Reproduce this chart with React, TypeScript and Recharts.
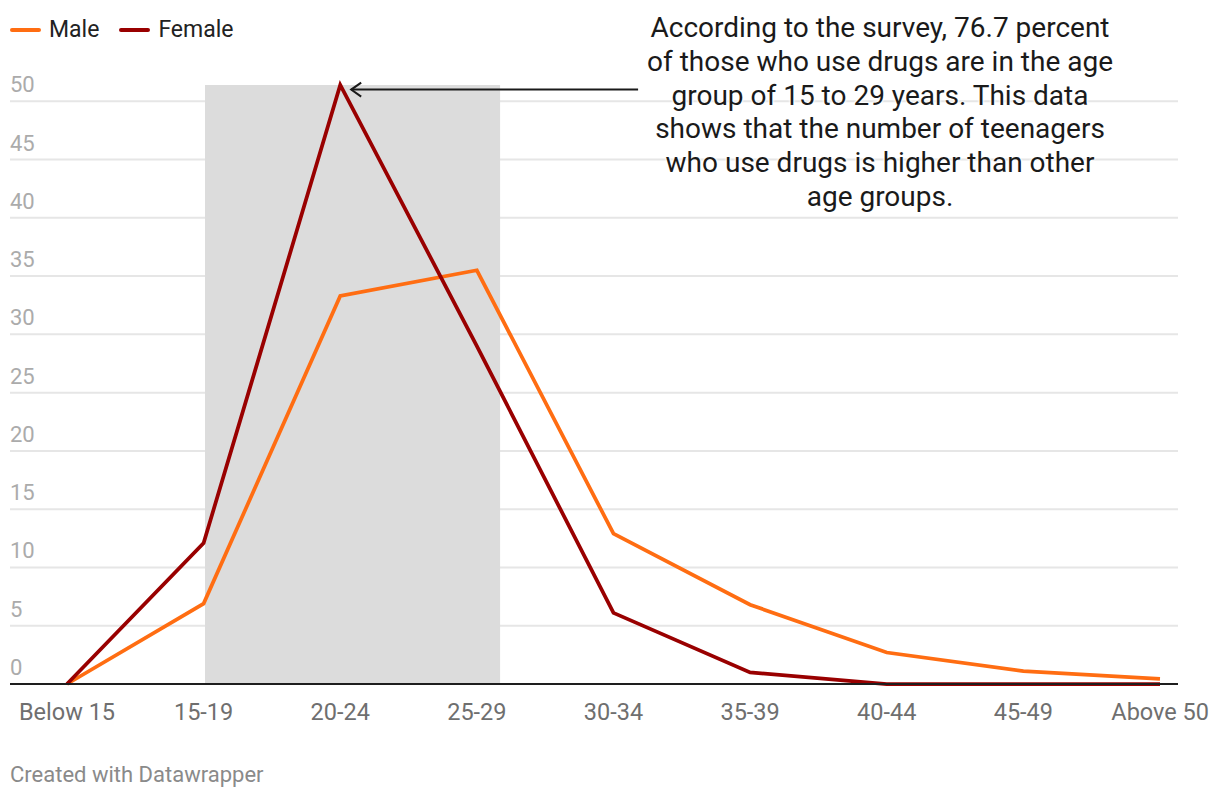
import React from "react";
import { LineChart, Line, XAxis, YAxis, CartesianGrid, ReferenceArea, ReferenceLine } from "recharts";

const categories = ["Below 15", "15-19", "20-24", "25-29", "30-34", "35-39", "40-44", "45-49", "Above 50"];
const male = [0, 6.9, 33.3, 35.5, 12.9, 6.8, 2.7, 1.1, 0.45];
const female = [0, 12.1, 51.4, 29.0, 6.1, 1.0, 0, 0, 0];
const yTicks = [0, 5, 10, 15, 20, 25, 30, 35, 40, 45, 50];
const noteLines = [
  "According to the survey, 76.7 percent",
  "of those who use drugs are in the age",
  "group of 15 to 29 years. This data",
  "shows that the number of teenagers",
  "who use drugs is higher than other",
  "age groups.",
];

const data = categories.map((c, i) => ({ idx: i, label: c, male: male[i], female: female[i] }));

const FONT = "Roboto, 'Noto Sans', sans-serif";
const MALE = "#ff6d12";
const FEMALE = "#990000";

function YTick(props: any) {
  const { y, payload } = props;
  return (
    <text x={10} y={y - 9} textAnchor="start" fill="#ababab" fontSize={22} fontFamily={FONT}>
      {payload.value}
    </text>
  );
}

function XTick(props: any) {
  const { x, y, payload } = props;
  const last = payload.value === categories.length - 1;
  return (
    <text x={last ? x + 49 : x} y={y + 28} textAnchor={last ? "end" : "middle"} fill="#6f6f6f" fontSize={23.5} fontFamily={FONT}>
      {categories[payload.value]}
    </text>
  );
}

function Arrow(props: any) {
  const { x1, y1, x2, y2 } = props;
  return (
    <g>
      <line x1={x1} y1={y1} x2={x2} y2={y2} stroke="#1a1a1a" strokeWidth={2} />
      <path d={`M${x1 + 10},${y1 - 7} L${x1},${y1} L${x1 + 10},${y1 + 7}`} fill="none" stroke="#1a1a1a" strokeWidth={2} />
    </g>
  );
}

function LegendItem({ color, label }: { color: string; label: string }) {
  return (
    <span style={{ display: "inline-flex", alignItems: "center", marginRight: 20 }}>
      <span style={{ display: "inline-block", width: 31, height: 4, borderRadius: 2, background: color, marginRight: 8 }} />
      <span>{label}</span>
    </span>
  );
}

export default function App() {
  return (
    <div style={{ position: "relative", width: 1220, height: 802, background: "#fff", fontFamily: FONT }}>
      <style>{`body{margin:0}`}</style>
      <div style={{ position: "absolute", left: 10, top: 16, fontSize: 23, color: "#222", display: "flex", lineHeight: "28px" }}>
        <LegendItem color={MALE} label="Male" />
        <LegendItem color={FEMALE} label="Female" />
      </div>
      <LineChart width={1220} height={802} data={data} margin={{ top: 43, right: 42, bottom: 0, left: 9 }}>
        <ReferenceArea x1={1.01} x2={3.17} y1={0} y2={51.4} fill="#dcdcdc" fillOpacity={1} stroke="none" ifOverflow="visible" />
        <CartesianGrid vertical={false} stroke="#e6e6e6" strokeWidth={2} syncWithTicks />
        <XAxis
          type="number"
          dataKey="idx"
          domain={[0, 8]}
          ticks={[0, 1, 2, 3, 4, 5, 6, 7, 8]}
          padding={{ left: 57, right: 18 }}
          axisLine={{ stroke: "#1e1e1e", strokeWidth: 2 }}
          tickLine={false}
          tick={<XTick />}
          height={118}
          interval={0}
        />
        <YAxis
          type="number"
          width={1}
          domain={[0, 55]}
          ticks={yTicks}
          interval={0}
          axisLine={false}
          tickLine={false}
          tick={<YTick />}
        />
        <ReferenceLine
          segment={[{ x: 2.08, y: 51.0 }, { x: 4.18, y: 51.0 }]}
          shape={<Arrow />}
          ifOverflow="visible"
        />
        <Line type="linear" dataKey="male" stroke={MALE} strokeWidth={3.75} dot={false} isAnimationActive={false} />
        <Line type="linear" dataKey="female" stroke={FEMALE} strokeWidth={3.75} dot={false} isAnimationActive={false} />
      </LineChart>
      <div
        style={{
          position: "absolute",
          left: 620,
          top: 11,
          width: 520,
          textAlign: "center",
          fontSize: 28,
          lineHeight: "33.8px",
          color: "#1a1a1a",
          textShadow: "0 0 3px #fff, 0 0 3px #fff, 0 0 3px #fff",
        }}
      >
        {noteLines.map((l) => (
          <div key={l}>{l}</div>
        ))}
      </div>
      <div style={{ position: "absolute", left: 10, top: 762, fontSize: 22, color: "#8a8a8a" }}>Created with Datawrapper</div>
    </div>
  );
}
